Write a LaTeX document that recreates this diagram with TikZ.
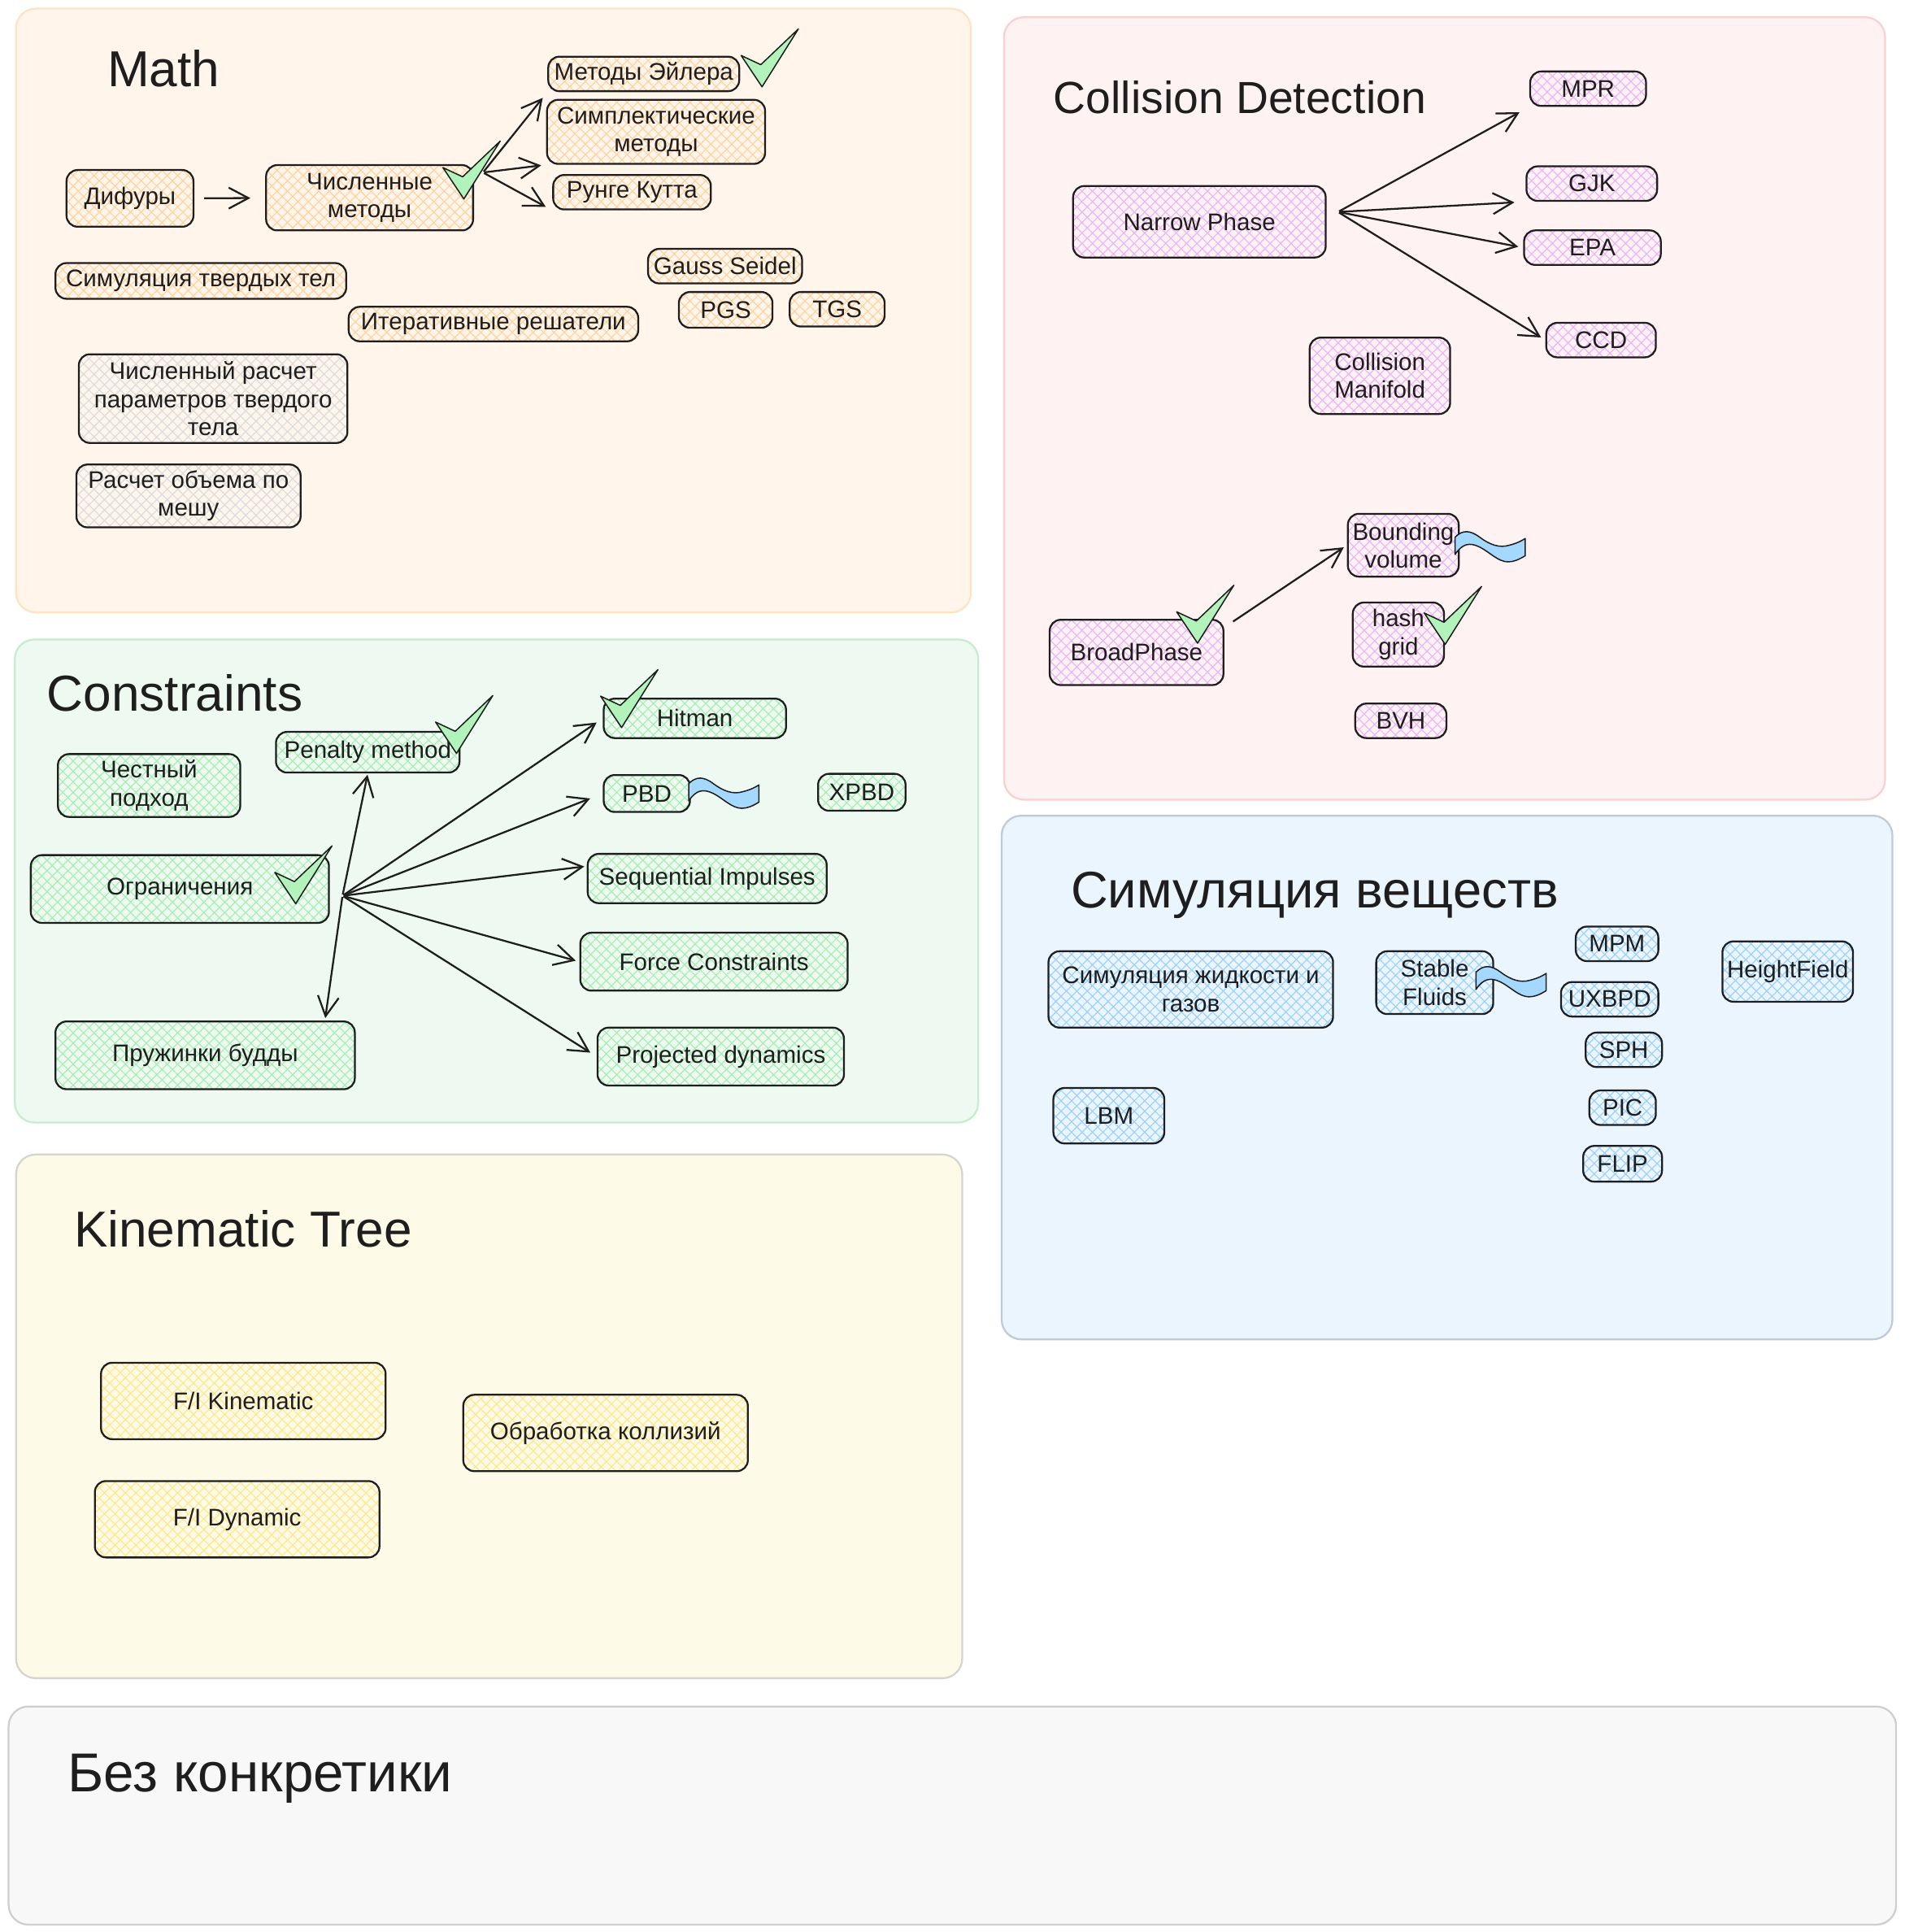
\documentclass[tikz,border=0pt]{standalone}
\usepackage{fontspec}
\setmainfont{Liberation Sans}
\usetikzlibrary{arrows.meta,patterns.meta}
\definecolor{ink}{HTML}{1E1E1E}
\definecolor{mathbg}{HTML}{FFF5EB}
\definecolor{mathln}{HTML}{FFE3C2}
\definecolor{collbg}{HTML}{FFF2F2}
\definecolor{collln}{HTML}{FCCFD0}
\definecolor{consbg}{HTML}{EEFAF1}
\definecolor{consln}{HTML}{C6EDCD}
\definecolor{simbg}{HTML}{EAF5FE}
\definecolor{simln}{HTML}{BFCBD6}
\definecolor{kinbg}{HTML}{FEFAE8}
\definecolor{kinln}{HTML}{D6D4CC}
\definecolor{nobg}{HTML}{F8F8F8}
\definecolor{noln}{HTML}{CFCFCF}
\definecolor{hmath}{HTML}{FFD3A0}
\definecolor{hcoll}{HTML}{EBB5F8}
\definecolor{hcons}{HTML}{A8EEB3}
\definecolor{hsim}{HTML}{9ED2FA}
\definecolor{hkin}{HTML}{FFE88A}
\definecolor{hgray}{HTML}{DADDE0}
\definecolor{tickgreen}{HTML}{B2F2BB}
\definecolor{wavebl}{HTML}{A5D8FF}
\newcommand{\titlefont}{\fontsize{41}{46}\selectfont}
\newcommand{\boxfont}{\fontsize{19.5}{22.5}\selectfont}
\tikzset{
  area/.style 2 args={draw=#2, fill=#1, line width=1.5pt, rounded corners=16pt},
  heading/.style={anchor=base west, inner sep=0pt, text=ink, font=\titlefont},
  hatchbox/.style={draw=ink, line width=1.5pt, rounded corners=9pt, align=center, text=ink, font=\boxfont, inner sep=1pt,
    preaction={pattern={Lines[angle=45,distance=6pt,line width=.8pt]}, pattern color=#1},
    preaction={pattern={Lines[angle=-45,distance=6pt,line width=.8pt]}, pattern color=#1}},
  mbox/.style={hatchbox=hmath},
  gbox/.style={hatchbox=hgray},
  cbox/.style={hatchbox=hcoll},
  kbox/.style={hatchbox=hcons},
  sbox/.style={hatchbox=hsim},
  ybox/.style={hatchbox=hkin},
  link/.style={draw=ink, line width=1.5pt, -{Straight Barb[length=16pt,width=17pt]}, shorten <=1pt, shorten >=6pt},
  tick/.pic={\draw[draw=ink, fill=tickgreen, line width=1pt, line join=round] (0,0) -- (-17,-25.5) -- (-1,-18) -- (29.5,-47) -- cycle;},
  squiggle/.pic={\draw[draw=ink, fill=wavebl, line width=1pt, line join=round] (0,0) .. controls (6,-6) and (12,-6) .. (20,0) .. controls (28,6) and (36,9) .. (44,6.5) .. controls (50,5) and (54,3) .. (57,1) -- (57,15) .. controls (52,18) and (48,20) .. (43,20) .. controls (35,20) and (28,12) .. (20,8) .. controls (12,4) and (6,5) .. (0,14) -- cycle;}
}
\begin{document}
\begin{tikzpicture}[x=1pt,y=-1pt]
  \useasboundingbox (0,0) rectangle (1546,1568);
  \fill[white] (0,0) rectangle (1546,1568);

  \draw[area={mathbg}{mathln}] (13,7) rectangle (788,497);
  \draw[area={collbg}{collln}] (815,14) rectangle (1530,649);
  \draw[area={consbg}{consln}] (12,519) rectangle (794,911);
  \draw[area={simbg}{simln}] (813,662) rectangle (1536,1087);
  \draw[area={kinbg}{kinln}] (13,937) rectangle (781,1362);
  \draw[area={nobg}{noln}] (7,1385) rectangle (1539,1562);

  \node[heading] (tmath) at (87,70) {Math};
  \node[heading, font=\fontsize{36.5}{42}\selectfont] (tcoll) at (855,92) {Collision Detection};
  \node[heading] (tcons) at (38,577) {Constraints};
  \node[heading, font=\fontsize{41.8}{46}\selectfont] (tsim) at (869,737) {Симуляция веществ};
  \node[heading] (tkin) at (60,1012) {Kinematic Tree};
  \node[heading, font=\fontsize{44.5}{48}\selectfont] (tno) at (55,1454) {Без конкретики};

  \node[mbox, minimum width=155, minimum height=28] (euler) at (522.5,60) {Методы Эйлера};
  \node[mbox, minimum width=177, minimum height=52] (sympl) at (532.5,107) {Симплектические\\методы};
  \node[mbox, minimum width=128, minimum height=28] (runge) at (513,156) {Рунге Кутта};
  \node[mbox, minimum width=103, minimum height=46] (difury) at (105.5,161) {Дифуры};
  \node[mbox, minimum width=168, minimum height=53] (chisl) at (300,160.5) {Численные\\методы};
  \node[mbox, minimum width=236, minimum height=29] (rigid) at (163,228) {Симуляция твердых тел};
  \node[mbox, minimum width=125, minimum height=28] (gauss) at (588.5,216) {Gauss Seidel};
  \node[mbox, minimum width=76, minimum height=29] (pgs) at (589,251.5) {PGS};
  \node[mbox, minimum width=77, minimum height=28] (tgs) at (679.5,251) {TGS};
  \node[mbox, minimum width=235, minimum height=28] (iter) at (400.5,263) {Итеративные решатели};
  \node[gbox, minimum width=218, minimum height=72] (params) at (173,323.5) {Численный расчет\\параметров твердого\\тела};
  \node[gbox, minimum width=182, minimum height=51] (volume) at (153,402.5) {Расчет объема по\\мешу};

  \coordinate (mhub) at (392,140);
  \draw[link, shorten <=8pt, shorten >=12pt] (difury) -- (chisl);
  \draw[link] (mhub) -- (euler.south west);
  \draw[link, shorten >=4pt] (mhub) -- (sympl.south west);
  \draw[link] (mhub) -- (runge.south west);

  \node[cbox, minimum width=94, minimum height=28] (mpr) at (1289,72) {MPR};
  \node[cbox, minimum width=106, minimum height=28] (gjk) at (1292,149) {GJK};
  \node[cbox, minimum width=111, minimum height=28] (epa) at (1292.5,201) {EPA};
  \node[cbox, minimum width=89, minimum height=28] (ccd) at (1299.5,276) {CCD};
  \node[cbox, minimum width=205, minimum height=58] (narrow) at (973.5,180) {Narrow Phase};
  \node[cbox, minimum width=114, minimum height=62] (manifold) at (1120,305) {Collision\\Manifold};
  \node[cbox, minimum width=90, minimum height=51] (bvol) at (1139,442.5) {Bounding\\volume};
  \node[cbox, minimum width=74, minimum height=52] (hash) at (1135,515) {hash\\grid};
  \node[cbox, minimum width=74, minimum height=28] (bvh) at (1137,585) {BVH};
  \node[cbox, minimum width=141, minimum height=53] (broad) at (922.5,529.5) {BroadPhase};

  \coordinate (nhub) at (1086,172);
  \coordinate (bhub) at (1000,505);
  \draw[link, shorten >=9pt] (nhub) -- (mpr.south west);
  \draw[link, shorten >=9pt] (nhub) -- (gjk.south west);
  \draw[link, shorten >=4pt] (nhub) -- (epa.west);
  \draw[link, shorten >=4pt] (nhub) -- (ccd.west);
  \draw[link, shorten >=3pt] (bhub) -- (bvol.west);

  \node[kbox, minimum width=148, minimum height=32] (hitman) at (564,583) {Hitman};
  \node[kbox, minimum width=70, minimum height=30] (pbd) at (525,644) {PBD};
  \node[kbox, minimum width=71, minimum height=30] (xpbd) at (699.5,643) {XPBD};
  \node[kbox, minimum width=194, minimum height=40] (seqimp) at (574,713) {Sequential Impulses};
  \node[kbox, minimum width=217, minimum height=47] (forcec) at (579.5,780.5) {Force Constraints};
  \node[kbox, minimum width=200, minimum height=47] (projdyn) at (585,857.5) {Projected dynamics};
  \node[kbox, minimum width=148, minimum height=51] (honest) at (121,637.5) {Честный\\подход};
  \node[kbox, minimum width=149, minimum height=33] (penalty) at (298.5,610.5) {Penalty method};
  \node[kbox, minimum width=242, minimum height=55] (limits) at (146,721.5) {Ограничения};
  \node[kbox, minimum width=243, minimum height=55] (springs) at (166.5,856.5) {Пружинки будды};

  \coordinate (chub) at (278,727);
  \draw[link] (chub) -- (hitman.west);
  \draw[link, shorten >=11pt] (chub) -- (pbd.west);
  \draw[link, shorten >=2pt] (chub) -- ([yshift=10pt]seqimp.west);
  \draw[link, shorten >=3pt] (chub) -- (forcec.west);
  \draw[link] (chub) -- (projdyn.west);
  \draw[link, shorten >=1pt] (chub) -- (penalty.south);
  \draw[link, shorten >=2pt] (chub) -- ([xshift=-25pt]springs.north east);

  \node[sbox, minimum width=231, minimum height=62] (fluid) at (966.5,803) {Симуляция жидкости и\\газов};
  \node[sbox, minimum width=95, minimum height=51] (stable) at (1164.5,797.5) {Stable\\Fluids};
  \node[sbox, minimum width=67, minimum height=28] (mpm) at (1312.5,766) {MPM};
  \node[sbox, minimum width=79, minimum height=28] (uxbpd) at (1306.5,811) {UXBPD};
  \node[sbox, minimum width=62, minimum height=28] (sph) at (1318,852) {SPH};
  \node[sbox, minimum width=54, minimum height=28] (pic) at (1317,899) {PIC};
  \node[sbox, minimum width=64, minimum height=29] (flip) at (1317,944.5) {FLIP};
  \node[sbox, minimum width=106, minimum height=49] (height) at (1451,788.5) {HeightField};
  \node[sbox, minimum width=90, minimum height=45] (lbm) at (900,905.5) {LBM};

  \node[ybox, minimum width=231, minimum height=62] (fik) at (197.5,1137) {F/I Kinematic};
  \node[ybox, minimum width=231, minimum height=62] (fid) at (192.5,1233) {F/I Dynamic};
  \node[ybox, minimum width=231, minimum height=62] (collproc) at (491.5,1163) {Обработка коллизий};

  \pic at (376.5,161.5) {tick};
  \pic at (618.5,70.5) {tick};
  \pic at (972,522) {tick};
  \pic at (1173,523) {tick};
  \pic at (504.5,590.5) {tick};
  \pic at (370.5,611.5) {tick};
  \pic at (240,733.5) {tick};

  \pic at (1181,436) {squiggle};
  \pic at (1198,789) {squiggle};
  \pic at (559,636) {squiggle};
\end{tikzpicture}
\end{document}
